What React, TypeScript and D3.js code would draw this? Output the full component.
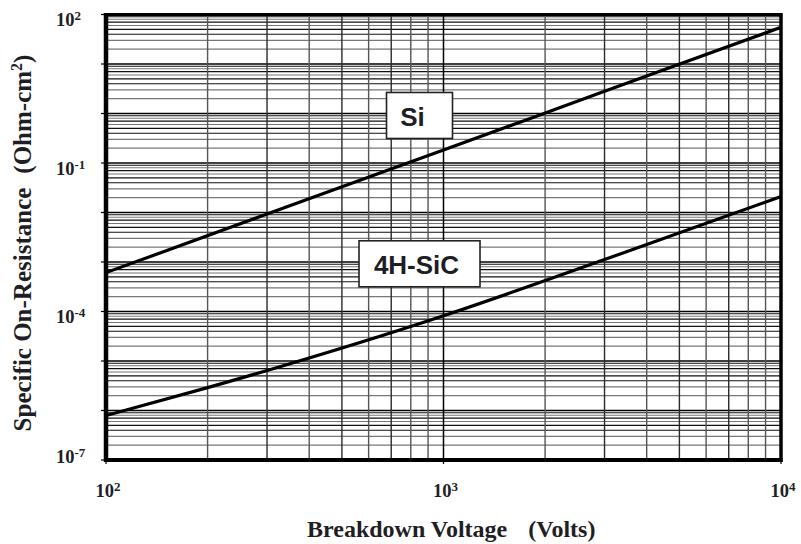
import React from 'react';
import * as d3 from 'd3';

// ---- data ----
const siVoltage = [100, 300, 1000, 3000, 10000];
const siResistance = [6.1e-4, 9.3e-3, 0.183, 2.8, 55];

const sicVoltage = [100, 200, 400, 1000, 3000, 10000];
const sicResistance = [7.9e-7, 2.9e-6, 1.15e-5, 8.2e-5, 1.12e-3, 2.1e-2];

const xTickValues = [1e2, 1e3, 1e4];
const xTickExponents = ['2', '3', '4'];
const yTickValues = [1e2, 1e-1, 1e-4, 1e-7];
const yTickExponents = ['2', '-1', '-4', '-7'];

const seriesLabels = ['Si', '4H-SiC'];
const labelVoltage = [849, 849];
const labelResistance = [0.912, 9.2e-4];

const xTitle = 'Breakdown Voltage';
const xTitleUnit = '(Volts)';
const yTitle = 'Specific On-Resistance';
const yTitleUnit = '(Ohm-cm';

export default function App() {
  const W = 801, H = 544;
  const left = 106, right = 781, top = 14.5, bottom = 460;
  const x = d3.scaleLog().domain([1e2, 1e4]).range([left, right]);
  const y = d3.scaleLog().domain([1e-7, 1e2]).range([bottom, top]);

  const serif = '"Liberation Serif", "Times New Roman", serif';
  const sans = '"Liberation Sans", Arial, sans-serif';
  const textColor = '#1e1e24';

  const hLines: { v: number; m: number }[] = [];
  for (let e = -7; e < 2; e++) {
    for (let m = 2; m <= 9; m++) hLines.push({ v: m * Math.pow(10, e), m });
  }
  const hDecades: number[] = [];
  for (let e = -6; e < 2; e++) hDecades.push(Math.pow(10, e));
  const vLines: { v: number; m: number }[] = [];
  for (let e = 2; e < 4; e++) {
    for (let m = 2; m <= 9; m++) vLines.push({ v: m * Math.pow(10, e), m });
  }

  const line = d3
    .line<[number, number]>()
    .x((d) => x(d[0]))
    .y((d) => y(d[1]))
    .curve(d3.curveNatural);

  const siPath = line(siVoltage.map((v, i) => [v, siResistance[i]] as [number, number]));
  const sicPath = line(sicVoltage.map((v, i) => [v, sicResistance[i]] as [number, number]));

  const boxW = [66, 121];
  const boxH = 46;
  const textDx = [-7, -3];

  const allYDecades: number[] = [];
  for (let e = -7; e <= 2; e++) allYDecades.push(Math.pow(10, e));

  return (
    <svg
      width={W}
      height={H}
      style={{ position: 'absolute', left: 0, top: 0, background: '#fff' }}
    >
      <rect x={0} y={0} width={W} height={H} fill="#fff" />
      <defs>
        <clipPath id="plotClip">
          <rect x={left} y={top} width={right - left} height={bottom - top} />
        </clipPath>
      </defs>

      {hLines.map((d, i) => (
        <line
          key={'h' + i}
          x1={left}
          x2={right}
          y1={y(d.v)}
          y2={y(d.v)}
          stroke={[4, 5, 7, 9].includes(d.m) ? '#111' : '#777'}
          strokeWidth={1.1}
        />
      ))}
      {hDecades.map((v, i) => (
        <line key={'hd' + i} x1={left} x2={right} y1={y(v)} y2={y(v)} stroke="#000" strokeWidth={1.3} />
      ))}

      {vLines.map((d, i) => (
        <line
          key={'v' + i}
          x1={x(d.v)}
          x2={x(d.v)}
          y1={top}
          y2={bottom}
          stroke={[3, 5, 7].includes(d.m) ? '#2a2a2a' : '#555'}
          strokeWidth={1.4}
        />
      ))}
      <line x1={x(1e3)} x2={x(1e3)} y1={top} y2={bottom} stroke="#000" strokeWidth={1.5} />

      <g clipPath="url(#plotClip)">
        <path d={siPath || ''} fill="none" stroke="#000" strokeWidth={3.2} />
        <path d={sicPath || ''} fill="none" stroke="#000" strokeWidth={3.2} />
      </g>

      {seriesLabels.map((t, i) => {
        const cx = x(labelVoltage[i]);
        const cy = y(labelResistance[i]);
        return (
          <g key={'lab' + i}>
            <rect
              x={cx - boxW[i] / 2}
              y={cy - boxH / 2}
              width={boxW[i]}
              height={boxH}
              fill="#fff"
              stroke="#222"
              strokeWidth={1.6}
            />
            <text
              x={cx + textDx[i]}
              y={cy + 10.5}
              textAnchor="middle"
              fontFamily={sans}
              fontWeight="bold"
              fontSize={26}
              fill={textColor}
            >
              {t}
            </text>
          </g>
        );
      })}

      {allYDecades.map((v, i) => (
        <line key={'yt' + i} x1={left - 5} x2={left} y1={y(v)} y2={y(v)} stroke="#000" strokeWidth={1.2} />
      ))}
      {xTickValues.map((v, i) => (
        <line key={'xt' + i} x1={x(v)} x2={x(v)} y1={bottom} y2={bottom + 4} stroke="#000" strokeWidth={1.2} />
      ))}

      <line x1={left} x2={right} y1={top} y2={top} stroke="#000" strokeWidth={3} />
      <line x1={right} x2={right} y1={top - 1.5} y2={bottom + 2} stroke="#000" strokeWidth={3.5} />
      <line x1={left - 2} x2={right + 1.5} y1={bottom} y2={bottom} stroke="#000" strokeWidth={4} />
      <line x1={left} x2={left} y1={top - 1.5} y2={bottom + 2} stroke="#000" strokeWidth={4.5} />

      {yTickValues.map((v, i) => {
        const isLast = i === yTickValues.length - 1;
        return (
          <text
            key={'yl' + i}
            x={56}
            y={y(v) + (isLast ? 3 : 11.5)}
            fontFamily={serif}
            fontWeight="bold"
            fontSize={18.5}
            fill={textColor}
          >
            10
            <tspan fontSize={13} dy={-6}>
              {yTickExponents[i]}
            </tspan>
          </text>
        );
      })}

      {xTickValues.map((v, i) => (
        <text
          key={'xl' + i}
          x={x(v) + 2}
          y={497}
          textAnchor="middle"
          fontFamily={serif}
          fontWeight="bold"
          fontSize={18.5}
          fill={textColor}
        >
          10
          <tspan fontSize={13} dy={-6}>
            {xTickExponents[i]}
          </tspan>
        </text>
      ))}

      <text x={307} y={537} fontFamily={serif} fontWeight="bold" fontSize={24} fill={textColor}>
        {xTitle}
        <tspan dx={21}>{xTitleUnit}</tspan>
      </text>
      <text
        transform="translate(31,243) rotate(-90)"
        textAnchor="middle"
        fontFamily={serif}
        fontWeight="bold"
        fontSize={25}
        fill={textColor}
      >
        {yTitle}
        <tspan dx={14}>{yTitleUnit}</tspan>
        <tspan fontSize={16} dy={-9}>2</tspan>
        <tspan dy={9}>)</tspan>
      </text>
    </svg>
  );
}
